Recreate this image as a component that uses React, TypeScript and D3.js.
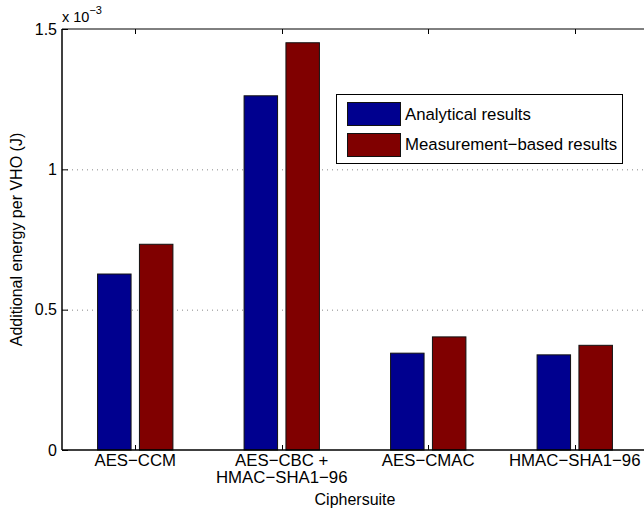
import * as d3 from 'd3';
import { useEffect, useRef } from 'react';

const categories = ['AES−CCM', 'AES−CBC +\nHMAC−SHA1−96', 'AES−CMAC', 'HMAC−SHA1−96'];
const analytical = [0.627, 1.262, 0.345, 0.339];
const measured = [0.733, 1.451, 0.403, 0.373];
const seriesNames = ['Analytical results', 'Measurement−based results'];
const seriesColors = ['#00008f', '#800000'];
const yTicks = [0, 0.5, 1, 1.5];

const width = 644;
const height = 512;
const margin = { top: 29, right: -4, bottom: 62, left: 62 };
const font = '"Liberation Sans", Arial, sans-serif';

const App = () => {
    const ref = useRef<SVGSVGElement | null>(null);

    useEffect(() => {
        const svg = d3.select(ref.current);
        svg.selectAll('*').remove();

        const x = d3.scaleLinear()
            .domain([0.5, categories.length + 0.5])
            .range([margin.left, width - margin.right]);
        const y = d3.scaleLinear()
            .domain([0, 1.5])
            .range([height - margin.bottom, margin.top]);

        // grouped bar layout like matlab
        const groupWidth = Math.min(0.8, 2 / 3.5);
        const barW = groupWidth / 2 * 0.8;
        const offsets = [-groupWidth / 4, groupWidth / 4];

        // dotted grid
        svg.append('g')
            .selectAll('line')
            .data(yTicks.filter(t => t > 0 && t < 1.5))
            .enter()
            .append('line')
            .attr('x1', margin.left)
            .attr('x2', width)
            .attr('y1', d => y(d) + 0.5)
            .attr('y2', d => y(d) + 0.5)
            .attr('stroke', '#888')
            .attr('stroke-width', 1)
            .attr('stroke-dasharray', '1,4');

        const series = [analytical, measured];
        series.forEach((vals, s) => {
            svg.append('g')
                .selectAll('rect')
                .data(vals)
                .enter()
                .append('rect')
                .attr('x', (d, i) => x(i + 1 + offsets[s] - barW / 2))
                .attr('width', x(barW) - x(0))
                .attr('y', d => y(d))
                .attr('height', d => y(0) - y(d))
                .attr('fill', seriesColors[s])
                .attr('stroke', '#111')
                .attr('stroke-width', 1);
        });

        // axes box
        const ax = svg.append('g').attr('stroke', '#000').attr('fill', 'none');
        ax.append('line')
            .attr('x1', margin.left).attr('x2', width)
            .attr('y1', y(0)).attr('y2', y(0))
            .attr('stroke-width', 1.5);
        ax.append('line')
            .attr('x1', margin.left).attr('x2', width)
            .attr('y1', y(1.5)).attr('y2', y(1.5))
            .attr('stroke-width', 1);
        ax.append('line')
            .attr('x1', margin.left).attr('x2', margin.left)
            .attr('y1', y(0)).attr('y2', y(1.5))
            .attr('stroke-width', 1.5);

        // category ticks, bottom and top
        categories.forEach((c, i) => {
            const cx = Math.round(x(i + 1)) + 0.5;
            ax.append('line').attr('x1', cx).attr('x2', cx)
                .attr('y1', y(0)).attr('y2', y(0) - 5).attr('stroke-width', 1);
            ax.append('line').attr('x1', cx).attr('x2', cx)
                .attr('y1', y(1.5)).attr('y2', y(1.5) + 5).attr('stroke-width', 1);
        });
        yTicks.forEach(t => {
            ax.append('line').attr('x1', margin.left).attr('x2', margin.left + 6)
                .attr('y1', y(t) + 0.5).attr('y2', y(t) + 0.5).attr('stroke-width', 1);
        });

        // y tick labels
        svg.append('g')
            .selectAll('text')
            .data(yTicks)
            .enter()
            .append('text')
            .attr('x', margin.left - 5)
            .attr('y', d => y(d))
            .attr('dy', '0.35em')
            .attr('text-anchor', 'end')
            .attr('font-family', font)
            .attr('font-size', 16)
            .text(d => d === 0 ? '0' : String(d));

        // x tick labels
        const xl = svg.append('g');
        categories.forEach((c, i) => {
            c.split('\n').forEach((ln, j) => {
                xl.append('text')
                    .attr('x', x(i + 1))
                    .attr('y', 466 + j * 17.3)
                    .attr('text-anchor', 'middle')
                    .attr('font-family', font)
                    .attr('font-size', 16.8)
                    .text(ln);
            });
        });

        // exponent
        const ex = svg.append('text')
            .attr('x', margin.left)
            .attr('y', 22)
            .attr('font-family', font)
            .attr('font-size', 14.5);
        ex.append('tspan').text('x 10');
        ex.append('tspan').attr('dy', -8).attr('font-size', 11).text('−3');

        // axis titles
        svg.append('text')
            .attr('x', x(2.5))
            .attr('y', 505)
            .attr('text-anchor', 'middle')
            .attr('font-family', font)
            .attr('font-size', 16)
            .text('Ciphersuite');
        svg.append('text')
            .attr('transform', `translate(22,${(y(0) + y(1.5)) / 2}) rotate(-90)`)
            .attr('text-anchor', 'middle')
            .attr('font-family', font)
            .attr('font-size', 16)
            .text('Additional energy per VHO (J)');

        // legend
        const lg = svg.append('g');
        lg.append('rect')
            .attr('x', 336.5).attr('y', 94.5)
            .attr('width', 286).attr('height', 69)
            .attr('fill', '#fff').attr('stroke', '#000').attr('stroke-width', 1);
        seriesNames.forEach((n, i) => {
            lg.append('rect')
                .attr('x', 347.5).attr('y', 102.5 + i * 31)
                .attr('width', 53).attr('height', 23)
                .attr('fill', seriesColors[i]).attr('stroke', '#111');
            lg.append('text')
                .attr('x', 405)
                .attr('y', 119.5 + i * 30.5)
                .attr('font-family', font)
                .attr('font-size', 16.8)
                .text(n);
        });
    }, [ref]);

    return (
        <svg ref={ref} width={width} height={height}
            style={{ position: 'absolute', left: 0, top: 0, background: '#fff' }} />
    );
};

export default App;
